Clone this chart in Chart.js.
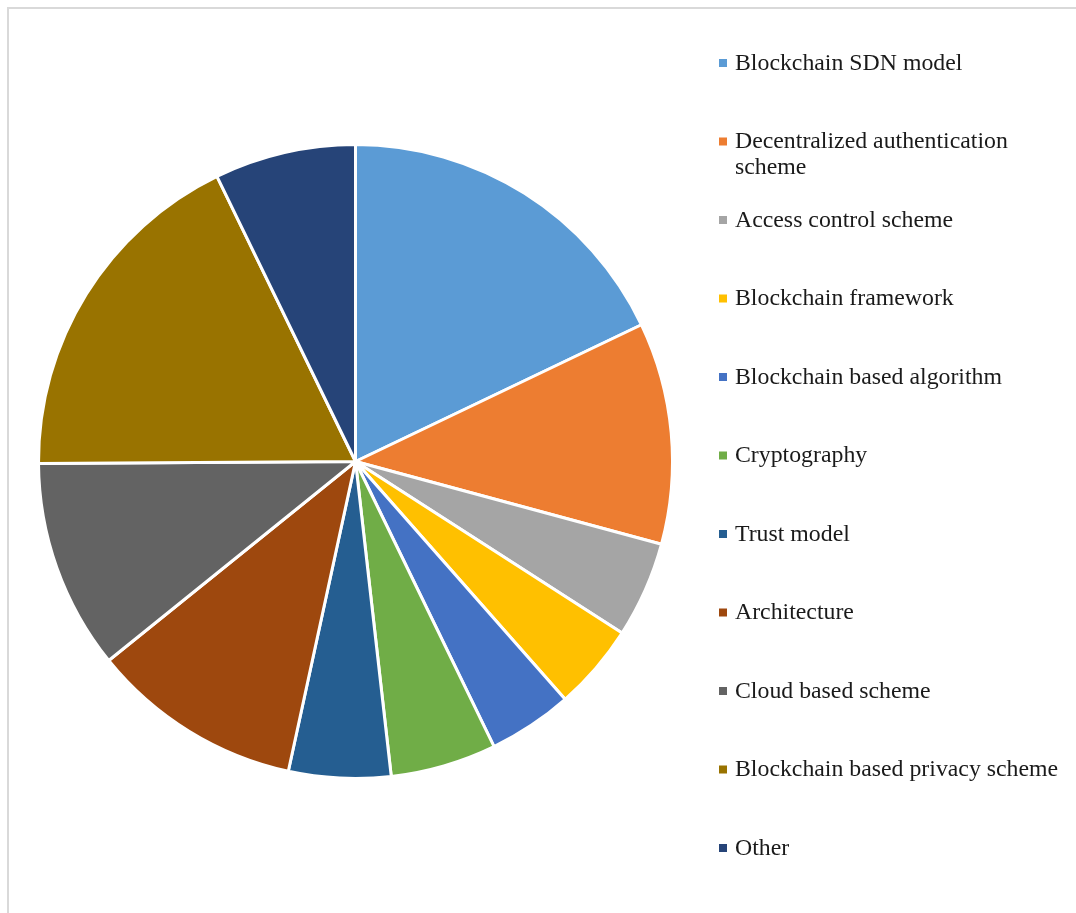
<!DOCTYPE html>
<html lang="en">
<head>
  <meta charset="UTF-8" />
  <title>Blockchain research categories</title>
  <script src="https://cdn.jsdelivr.net/npm/chart.js"></script>
  <style>
    html, body { margin: 0; padding: 0; background: #fff; }
    #frame { position: absolute; left: 7px; top: 7px; right: -10px; bottom: -10px;
             border-top: 2px solid #d9d9d9; border-left: 2px solid #d9d9d9; }
    #wrap { position: absolute; left: 0; top: 0; width: 1076px; height: 913px; }
  </style>
</head>
<body>
  <div id="frame"></div>
  <div id="wrap"><canvas id="pieChart"></canvas></div>

  <script>
    const categories = [
      "Blockchain SDN model",
      "Decentralized authentication scheme",
      "Access control scheme",
      "Blockchain framework",
      "Blockchain based algorithm",
      "Cryptography",
      "Trust model",
      "Architecture",
      "Cloud based scheme",
      "Blockchain based privacy scheme",
      "Other"
    ];
    const shares = [17.9, 11.3, 4.9, 4.4, 4.3, 5.4, 5.2, 10.8, 10.7, 17.9, 7.2];
    const sliceColors = [
      "#5B9BD5", "#ED7D31", "#A5A5A5", "#FFC000", "#4472C4", "#70AD47",
      "#255E91", "#9E480E", "#636363", "#997300", "#264478"
    ];

    const legendFont = '23.8px "Liberation Serif", "Times New Roman", serif';

    // legend drawn by hand: evenly spaced rows, long labels wrap
    const sideLegend = {
      id: "sideLegend",
      afterDraw(chart) {
        const ctx = chart.ctx;
        const labels = chart.data.labels;
        const colors = chart.data.datasets[0].backgroundColor;
        ctx.save();
        ctx.font = legendFont;
        ctx.textBaseline = "middle";
        labels.forEach((label, i) => {
          const y = 62 + i * 78.5;
          ctx.fillStyle = colors[i];
          ctx.fillRect(719, y - 3, 8, 8);
          ctx.fillStyle = "#1a1a1a";
          const words = label.split(" ");
          let line = "", lines = [];
          words.forEach(w => {
            const test = line ? line + " " + w : w;
            if (ctx.measureText(test).width > 338 && line) { lines.push(line); line = w; }
            else line = test;
          });
          lines.push(line);
          lines.forEach((l, k) => ctx.fillText(l, 735, y + 1.5 + k * 26));
        });
        ctx.restore();
      }
    };

    new Chart(document.getElementById("pieChart"), {
      type: "pie",
      data: {
        labels: categories,
        datasets: [{
          data: shares,
          backgroundColor: sliceColors,
          borderColor: "#ffffff",
          borderWidth: 3
        }]
      },
      options: {
        responsive: true,
        maintainAspectRatio: false,
        animation: false,
        layout: { padding: { left: 37, top: 143, right: 402, bottom: 133 } },
        plugins: {
          legend: { display: false },
          tooltip: { enabled: false }
        }
      },
      plugins: [sideLegend]
    });
  </script>
</body>
</html>
